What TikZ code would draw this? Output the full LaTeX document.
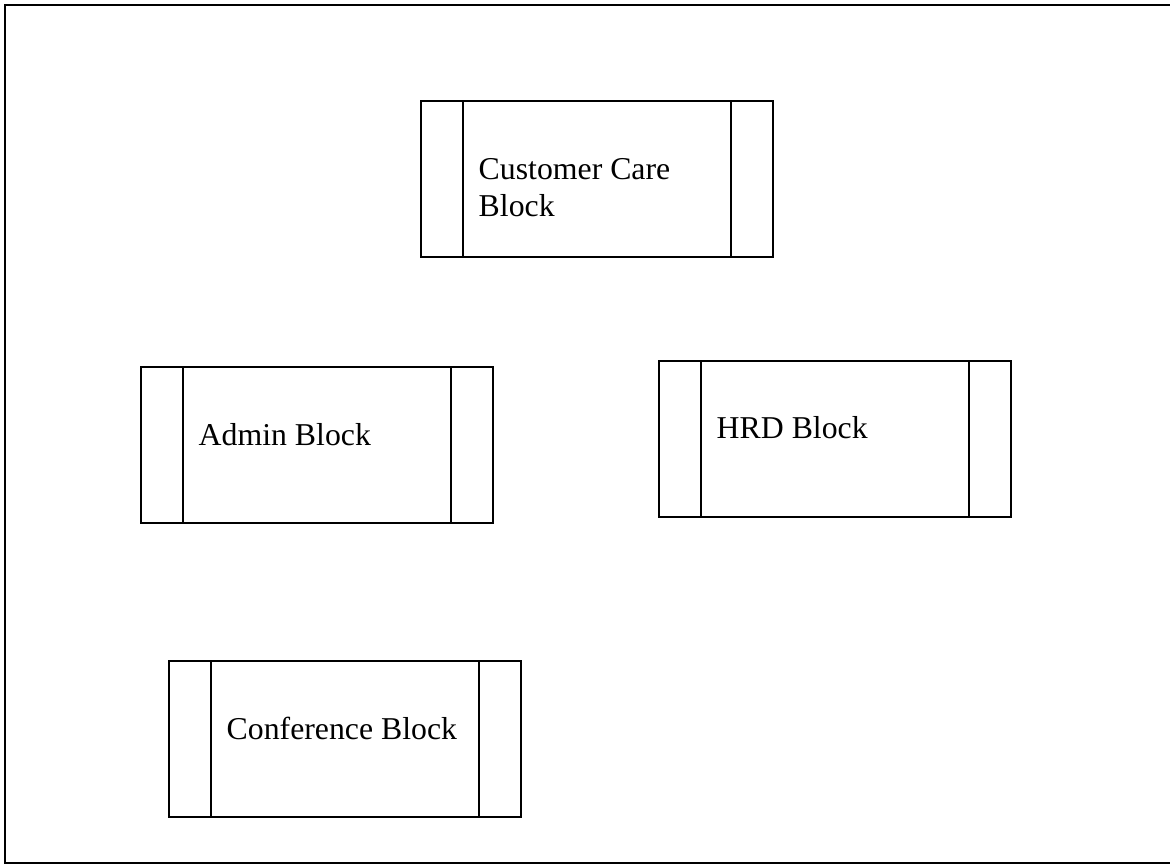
\documentclass[tikz,border=0pt]{standalone}
\usepackage{fontspec}
\setmainfont{Liberation Serif}
\usetikzlibrary{positioning}

\tikzset{
    blockbox/.style={draw, rectangle, line width=1.3pt,
        minimum width=8.8cm, minimum height=3.9cm, inner sep=0pt,
        path picture={
            \draw[line width=1pt] ([xshift=1.05cm]path picture bounding box.north west) -- ([xshift=1.05cm]path picture bounding box.south west);
            \draw[line width=1pt] ([xshift=-1.05cm]path picture bounding box.north east) -- ([xshift=-1.05cm]path picture bounding box.south east);
        }},
    blocktext/.style={anchor=base west, inner sep=0pt, align=left,
        font=\fontsize{22.6}{26.3}\selectfont}
}

\begin{document}
\begin{tikzpicture}[x=0.025cm, y=-0.025cm]
    \useasboundingbox (0,0) rectangle (1170,865);

    % open frame, cut off on the right
    \draw[line width=1.8pt] (1170,5) -- (5,5) -- (5,863) -- (1170,863);

    \node[blockbox] (care) at (597,179) {};
    \node[blockbox] (admin) at (317,445) {};
    \node[blockbox] (hrd) at (835,439) {};
    \node[blockbox] (conf) at (345,739) {};

    % base of a two-line node sits on its last line
    \node[blocktext] (caretxt) at ([xshift=1.46cm, yshift=-0.93cm]care.west) {Customer Care\\Block};
    \node[blocktext] (admintxt) at ([xshift=1.46cm]admin.west) {Admin Block};
    \node[blocktext] (hrdtxt) at ([xshift=1.46cm]hrd.west) {HRD Block};
    \node[blocktext] (conftxt) at ([xshift=1.46cm]conf.west) {Conference Block};

\end{tikzpicture}
\end{document}
